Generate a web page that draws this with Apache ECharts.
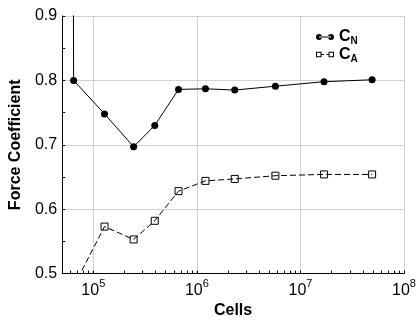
<!DOCTYPE html>
<html>
<head>
<meta charset="utf-8">
<script src="https://cdn.jsdelivr.net/npm/echarts@6/dist/echarts.min.js"></script>
<style>
html,body{margin:0;padding:0;background:#fff;}
#chart{width:419px;height:324px;}
</style>
</head>
<body>
<div id="chart"></div>
<script>
// Data
const cellsCN = [63000, 64500, 128300, 245000, 392000, 665000, 1210000, 2320000, 5730000, 16900000, 49200000];
const valuesCN = [1.5, 0.800, 0.748, 0.697, 0.730, 0.786, 0.787, 0.785, 0.791, 0.798, 0.801];
const cellsCA = [64500, 128300, 245000, 392000, 665000, 1210000, 2320000, 5730000, 16900000, 49200000];
const valuesCA = [0.480, 0.573, 0.553, 0.582, 0.628, 0.644, 0.647, 0.652, 0.654, 0.654];
const xTickLabels = [1e5, 1e6, 1e7, 1e8];
const xMinorTicks = [6e4,7e4,8e4,9e4,1e5,2e5,3e5,4e5,5e5,6e5,7e5,8e5,9e5,1e6,2e6,3e6,4e6,5e6,6e6,7e6,8e6,9e6,1e7,2e7,3e7,4e7,5e7,6e7,7e7,8e7,9e7,1e8];
const seriesNames = ['CN', 'CA'];

const font = '"Liberation Sans", Arial, Helvetica, sans-serif';
const chart = echarts.init(document.getElementById('chart'), null, {renderer: 'canvas'});

const iconCN = 'path://M0,3A3,3 0 1,0 6,3A3,3 0 1,0 0,3Z M12,3A3,3 0 1,0 18,3A3,3 0 1,0 12,3Z M3,2.5L15,2.5L15,3.5L3,3.5Z';
const iconCA = 'path://M0,0.5L5.5,0.5L5.5,6L0,6Z M1,5L4.5,5L4.5,1.5L1,1.5Z M12.5,0.5L18,0.5L18,6L12.5,6Z M13.5,5L17,5L17,1.5L13.5,1.5Z M5.5,2.8L8,2.8L8,3.7L5.5,3.7Z M10.5,2.8L12.5,2.8L12.5,3.7L10.5,3.7Z';

chart.setOption({
  animation: false,
  backgroundColor: '#fff',
  textStyle: {fontFamily: font},
  grid: {left: 59, right: 15, top: 16, bottom: 44, containLabel: false},
  legend: {
    orient: 'vertical',
    left: 311,
    top: 24,
    itemWidth: 18,
    itemHeight: 6,
    itemGap: 0,
    data: [
      {name: seriesNames[0], icon: iconCN, itemStyle: {color: '#000', borderWidth: 0}},
      {name: seriesNames[1], icon: iconCA, itemStyle: {color: '#000', borderWidth: 0}}
    ],
    formatter: function (n) { return '{c|C}{s|' + n.charAt(1) + '}'; },
    textStyle: {
      fontFamily: font,
      color: '#000',
      rich: {
        c: {fontSize: 16, fontWeight: 'bold', fontFamily: font, color: '#000'},
        s: {fontSize: 10, fontWeight: 'bold', fontFamily: font, color: '#000', padding: [9, 0, 0, 0]}
      }
    }
  },
  xAxis: [
    {
      type: 'log',
      logBase: 10,
      min: 5e4,
      max: 1e8,
      name: 'Cells',
      nameLocation: 'middle',
      nameGap: 25,
      nameTextStyle: {fontSize: 16, fontWeight: 'bold', color: '#000', fontFamily: font},
      axisLine: {show: true, lineStyle: {color: '#000', width: 1}},
      axisTick: {show: false},
      minorTick: {show: false},
      splitLine: {show: true, lineStyle: {color: '#d2d2d2', width: 1}},
      axisLabel: {
        customValues: xTickLabels,
        margin: 5,
        color: '#000',
        formatter: function (v) { return '{b|10}{p|' + Math.round(Math.log10(v)) + '}'; },
        rich: {
          b: {fontSize: 16, fontFamily: font, color: '#000'},
          p: {fontSize: 11, fontFamily: font, color: '#000', padding: [0, 0, 12, 0]}
        }
      }
    },
    {
      type: 'log',
      logBase: 10,
      min: 5e4,
      max: 1e8,
      position: 'bottom',
      gridIndex: 0,
      axisLine: {show: false},
      axisTick: {show: true, inside: true, length: 3, customValues: xMinorTicks, lineStyle: {color: '#000'}},
      axisLabel: {show: false},
      splitLine: {show: false},
      minorTick: {show: false}
    }
  ],
  yAxis: {
    type: 'value',
    min: 0.5,
    max: 0.9,
    interval: 0.1,
    name: 'Force Coefficient',
    nameLocation: 'middle',
    nameGap: 32,
    nameTextStyle: {fontSize: 16, fontWeight: 'bold', color: '#000', fontFamily: font},
    axisLine: {show: true, lineStyle: {color: '#000', width: 1}},
    axisTick: {show: true, inside: true, length: 3, lineStyle: {color: '#000'}},
    minorTick: {show: true, splitNumber: 2, length: 3, lineStyle: {color: '#000'}},
    splitLine: {show: true, lineStyle: {color: '#d2d2d2', width: 1}},
    axisLabel: {
      margin: 5,
      fontSize: 16,
      color: '#000',
      fontFamily: font,
      formatter: function (v) { return v.toFixed(1); }
    }
  },
  series: [
    {
      name: seriesNames[0],
      type: 'line',
      xAxisIndex: 0,
      data: cellsCN.map((c, i) => [c, valuesCN[i]]),
      symbol: 'circle',
      symbolSize: 7,
      clip: true,
      itemStyle: {color: '#000'},
      lineStyle: {color: '#000', width: 1}
    },
    {
      name: seriesNames[1],
      type: 'line',
      xAxisIndex: 0,
      data: cellsCA.map((c, i) => [c, valuesCA[i]]),
      symbol: 'rect',
      symbolSize: 7,
      clip: true,
      itemStyle: {color: 'rgba(0,0,0,0)', borderColor: '#000', borderWidth: 1},
      lineStyle: {color: '#000', width: 1, type: [6, 3]}
    }
  ]
});
</script>
</body>
</html>
